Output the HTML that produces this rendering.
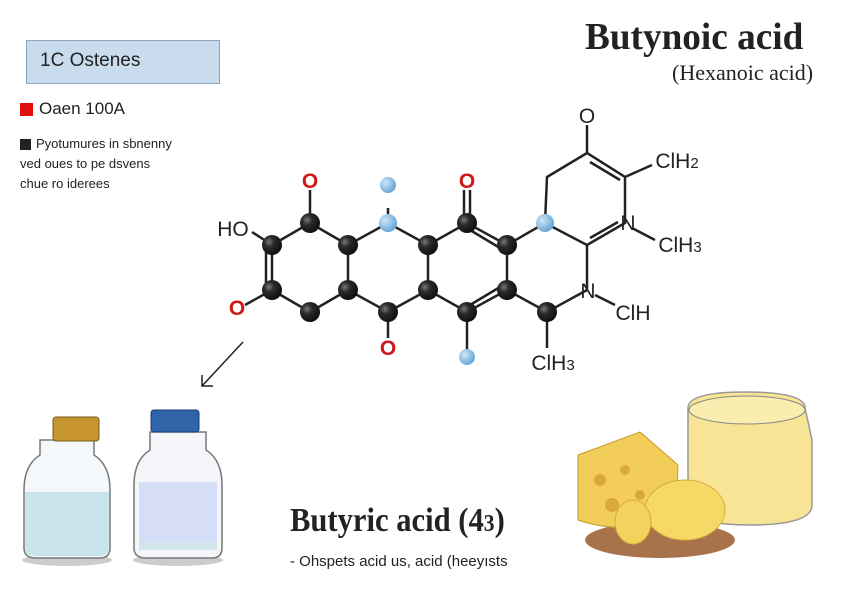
<!DOCTYPE html>
<html><head><meta charset="utf-8"><style>
body{margin:0;width:860px;height:602px;background:#fff;overflow:hidden;position:relative;font-family:"Liberation Sans",sans-serif}
.t{position:absolute;white-space:nowrap;color:#222}
</style></head><body>
<div style="position:absolute;left:26px;top:40px;width:192px;height:42px;background:#c9dcee;border:1px solid #8aa6c0"></div>
<div class="t" style="left:40px;top:50px;font-size:19px;color:#222">1C Ostenes</div>
<div class="t" style="left:585px;top:15px;font:bold 38px 'Liberation Serif',serif;color:#222;transform:scaleX(.98);transform-origin:left">Butynoic acid</div>
<div class="t" style="left:672px;top:60px;font:22px 'Liberation Serif',serif;color:#222">(Hexanoic acid)</div>
<div style="position:absolute;left:20px;top:103px;width:13px;height:13px;background:#e01010"></div>
<div class="t" style="left:39px;top:99px;font-size:17px">Oaen 100A</div>
<div style="position:absolute;left:20px;top:139px;width:11px;height:11px;background:#222"></div>
<div class="t" style="left:36px;top:136px;font-size:13px">Pyotumures in sbnenny</div>
<div class="t" style="left:20px;top:156px;font-size:13px">ved oues to pe dsvens</div>
<div class="t" style="left:20px;top:176px;font-size:13px">chue ro iderees</div>
<div class="t" style="left:290px;top:502px;font:bold 34px 'Liberation Serif',serif;transform:scaleX(.9);transform-origin:left">Butyric acid (4<span style="font-size:24px">3</span>)</div>
<div class="t" style="left:290px;top:553px;font-size:15px">- Ohspets acid us, acid (heeyısts</div>
<svg width="860" height="602" style="position:absolute;left:0;top:0">
<defs>
<radialGradient id="c" cx="35%" cy="35%" r="65%"><stop offset="0" stop-color="#777"/><stop offset=".4" stop-color="#2a2a2a"/><stop offset="1" stop-color="#111"/></radialGradient>
<radialGradient id="b" cx="35%" cy="35%" r="65%"><stop offset="0" stop-color="#cfe6f7"/><stop offset="1" stop-color="#6aa7d6"/></radialGradient>
</defs>
<g stroke="#222" stroke-width="2.5" fill="none">
<path d="M272,245 L310,223 L348,245 L348,290 L310,312 L272,290 Z"/>
<line x1="266" y1="250" x2="266" y2="285"/>
<path d="M348,245 L388,223 L428,245 L428,290 L388,312 L348,290"/>
<path d="M428,245 L467,223 L507,245 L507,290 L467,312 L428,290"/>
<line x1="470" y1="230" x2="505" y2="251"/><line x1="470" y1="305" x2="505" y2="284"/>
<path d="M507,245 L545,223 L587,245 L587,290 L547,312 L507,290"/>
<path d="M545,223 L547,177 L587,153 L625,177 L625,223 L587,245"/>
<line x1="590" y1="162" x2="620" y2="180"/><line x1="590" y1="238" x2="618" y2="222"/>
<line x1="310" y1="223" x2="310" y2="190"/><line x1="272" y1="245" x2="252" y2="232"/>
<line x1="272" y1="290" x2="245" y2="305"/><line x1="388" y1="223" x2="388" y2="208"/>
<line x1="464" y1="223" x2="464" y2="190"/><line x1="470" y1="223" x2="470" y2="190"/>
<line x1="388" y1="312" x2="388" y2="338"/><line x1="467" y1="312" x2="467" y2="352"/>
<line x1="547" y1="312" x2="547" y2="348"/><line x1="587" y1="153" x2="587" y2="125"/>
<line x1="625" y1="177" x2="652" y2="165"/><line x1="632" y1="228" x2="655" y2="240"/>
<line x1="595" y1="295" x2="615" y2="305"/>
<line x1="243" y1="342" x2="202" y2="386" stroke-width="1.5"/><path d="M202,375 L202,386 L213,386" stroke-width="1.5"/>
</g>
<g fill="url(#c)">
<circle cx="272" cy="245" r="10"/><circle cx="310" cy="223" r="10"/><circle cx="272" cy="290" r="10"/><circle cx="310" cy="312" r="10"/><circle cx="348" cy="290" r="10"/><circle cx="348" cy="245" r="10"/><circle cx="428" cy="245" r="10"/><circle cx="467" cy="223" r="10"/><circle cx="428" cy="290" r="10"/><circle cx="388" cy="312" r="10"/><circle cx="507" cy="245" r="10"/><circle cx="507" cy="290" r="10"/><circle cx="467" cy="312" r="10"/><circle cx="547" cy="312" r="10"/>
</g>
<g fill="url(#b)"><circle cx="388" cy="223" r="9"/><circle cx="388" cy="185" r="8"/><circle cx="545" cy="223" r="9"/><circle cx="467" cy="357" r="8"/></g>
<g font-family="Liberation Sans,sans-serif" font-size="21" text-anchor="middle">
<text x="310" y="188" fill="#d01818" font-weight="bold">O</text><text x="467" y="188" fill="#d01818" font-weight="bold">O</text>
<text x="237" y="315" fill="#d01818" font-weight="bold">O</text><text x="388" y="355" fill="#d01818" font-weight="bold">O</text>
<text x="233" y="236" fill="#222">HO</text><text x="587" y="123" fill="#222">O</text>
<text x="628" y="230" fill="#222">N</text><text x="588" y="298" fill="#222">N</text>
<text x="633" y="320" fill="#222">ClH</text><text x="553" y="370" fill="#222">ClH<tspan font-size="15">3</tspan></text>
<text x="677" y="168" fill="#222">ClH<tspan font-size="15">2</tspan></text><text x="680" y="252" fill="#222">ClH<tspan font-size="15">3</tspan></text>
</g>
<ellipse cx="67" cy="560" rx="45" ry="6" fill="#ccc"/><ellipse cx="178" cy="560" rx="45" ry="6" fill="#ccc"/>
<path d="M40,455 Q24,465 24,490 L24,548 Q24,558 36,558 L100,558 Q110,558 110,548 L110,490 Q110,465 94,455 L94,440 L40,440 Z" fill="#f4f8fa" stroke="#777" stroke-width="1.5"/>
<path d="M25,492 L109,492 L109,548 Q109,556 100,556 L36,556 Q25,556 25,548 Z" fill="#c9e4ec"/>
<rect x="53" y="417" width="46" height="24" rx="3" fill="#c7962f" stroke="#7a5a1a"/>
<path d="M150,450 Q134,460 134,485 L134,548 Q134,558 146,558 L212,558 Q222,558 222,548 L222,485 Q222,460 206,450 L206,432 L150,432 Z" fill="#f4f6fa" stroke="#777" stroke-width="1.5"/>
<rect x="139" y="482" width="78" height="60" fill="#d6ddf6"/><path d="M139,542 L217,542 L217,550 L139,550 Z" fill="#d3e6ec"/>
<rect x="151" y="410" width="48" height="22" rx="3" fill="#2f64a8" stroke="#1a3e70"/>
<ellipse cx="660" cy="540" rx="75" ry="18" fill="#a8734a"/>
<path d="M688,408 Q688,392 745,392 Q805,392 805,408 L812,440 L812,505 Q812,525 750,525 Q690,525 688,505 Z" fill="#f7e494" stroke="#999" stroke-width="1.5"/>
<ellipse cx="747" cy="410" rx="58" ry="14" fill="#f9eeb0" stroke="#888"/>
<path d="M578,455 L640,432 L678,465 L676,520 Q620,535 578,520 Z" fill="#f2cd5a" stroke="#c49a2a"/>
<circle cx="600" cy="480" r="6" fill="#d9a93c"/><circle cx="625" cy="470" r="5" fill="#d9a93c"/><circle cx="612" cy="505" r="7" fill="#d9a93c"/><circle cx="640" cy="495" r="5" fill="#d9a93c"/>
<ellipse cx="685" cy="510" rx="40" ry="30" fill="#f6d866" stroke="#d4ac3a"/>
<ellipse cx="633" cy="522" rx="18" ry="22" fill="#f3d25e" stroke="#d4ac3a"/>
</svg>
</body></html>
